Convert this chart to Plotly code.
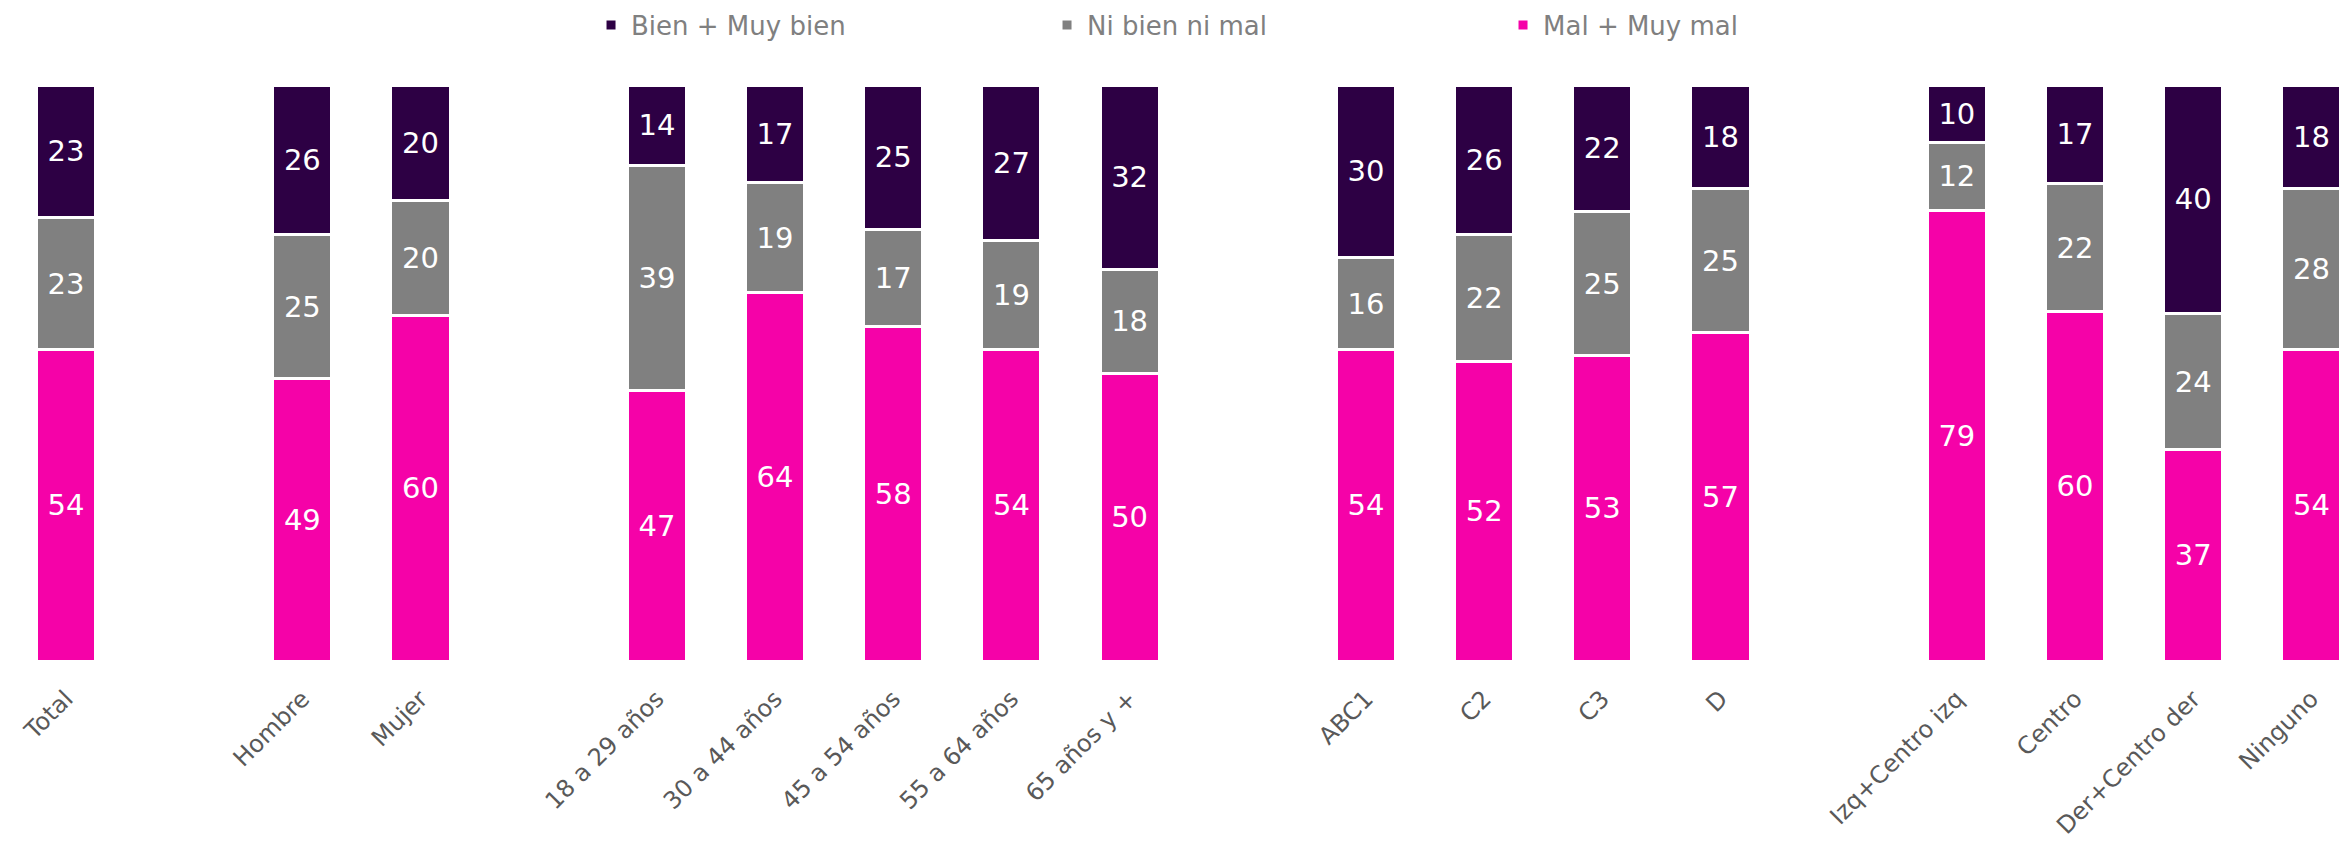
import plotly.graph_objects as go

categories = ["Total", "Hombre", "Mujer", "18 a 29 años", "30 a 44 años", "45 a 54 años",
              "55 a 64 años", "65 años y +", "ABC1", "C2", "C3", "D",
              "Izq+Centro izq", "Centro", "Der+Centro der", "Ninguno"]
# slot positions (empty slots separate the groups)
slots = [0, 2, 3, 5, 6, 7, 8, 9, 11, 12, 13, 14, 16, 17, 18, 19]

bien = [23, 26, 20, 14, 17, 25, 27, 32, 30, 26, 22, 18, 10, 17, 40, 18]
ni = [23, 25, 20, 39, 19, 17, 19, 18, 16, 22, 25, 25, 12, 22, 24, 28]
mal = [54, 49, 60, 47, 64, 58, 54, 50, 54, 52, 53, 57, 79, 60, 37, 54]

series = [
    ("Mal + Muy mal", mal, "#F502A8"),
    ("Ni bien ni mal", ni, "#808080"),
    ("Bien + Muy bien", bien, "#2D0044"),
]

FONT = "DejaVu Sans"
fig = go.Figure()
for name, vals, color in series:
    fig.add_trace(go.Bar(
        name=name, x=slots, y=vals, width=0.5,
        marker=dict(color=color, line=dict(color="white", width=3)),
        text=[str(v) for v in vals], textposition="inside",
        insidetextanchor="middle", textangle=0,
        textfont=dict(color="white", size=29, family=FONT),
        constraintext="none",
    ))

fig.update_layout(
    barmode="stack", barnorm="percent",
    width=2349, height=841,
    margin=dict(l=0, r=0, t=77, b=188),
    paper_bgcolor="white", plot_bgcolor="white",
    showlegend=True,
    legend=dict(orientation="h", xref="container", yref="container",
                x=0.2482, xanchor="left", y=1 - 17 / 841, yanchor="middle",
                traceorder="reversed", entrywidth=411, itemwidth=30,
                font=dict(size=26, color="#808080", family=FONT)),
    xaxis=dict(range=[-0.4908, 19.386], tickvals=slots, ticktext=categories,
               tickangle=-45, showgrid=False, zeroline=False, showline=False,
               ticks="", ticklen=0, ticklabelstandoff=18,
               tickfont=dict(size=24, color="#595959", family=FONT)),
    yaxis=dict(range=[0, 100], visible=False, showgrid=False),
    uniformtext=dict(mode=False),
)

fig.write_html("out.html")
